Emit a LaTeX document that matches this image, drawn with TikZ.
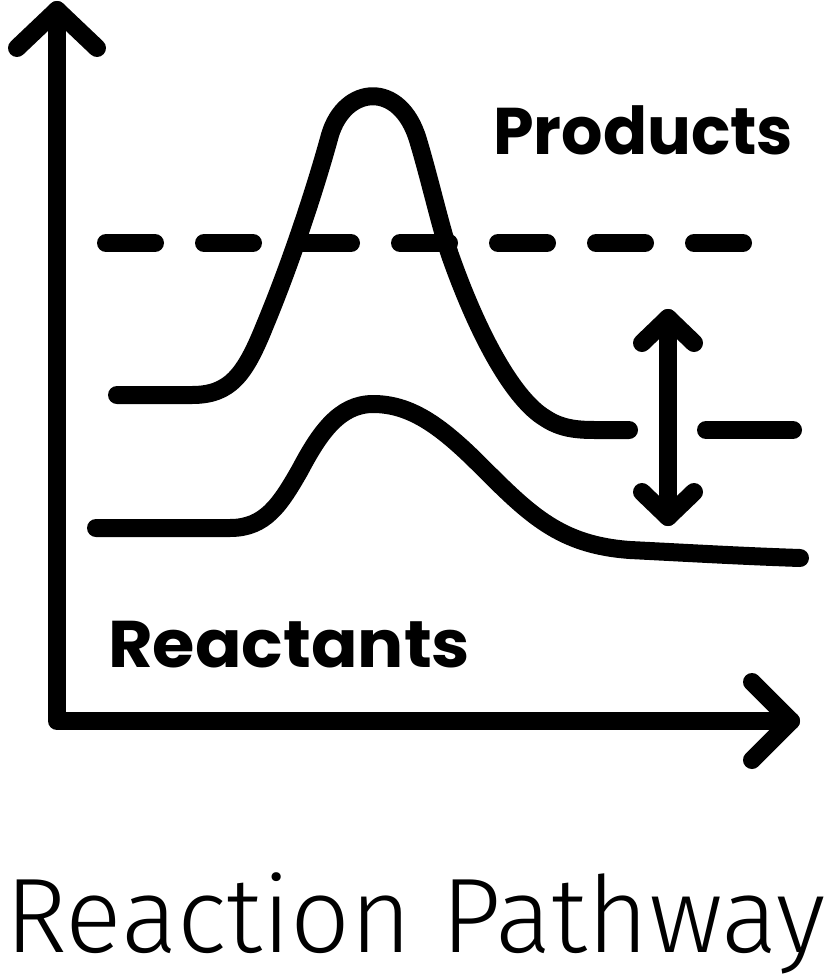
\documentclass[tikz,border=0pt]{standalone}
\usepackage{fontspec}
\setmainfont{Poppins}
\newfontfamily\capfont{Fira Sans Light}
\usepackage{graphicx}
\begin{document}
\begin{tikzpicture}[x=1pt,y=-1pt,
  stroke/.style={line width=18pt,line cap=round,line join=round,black},
  dashln/.style={stroke,dash pattern=on 49pt off 49pt},
  label/.style={inner sep=0pt,anchor=base west,font=\fontsize{66}{66}\selectfont\bfseries}]
\useasboundingbox[fill=white] (0,0) rectangle (831,980);
% axes
\draw[stroke] (17,48) -- (57,10) -- (97,48);
\draw[stroke] (57,10) -- (57,721) -- (791,721);
\draw[stroke] (752,682) -- (791,721) -- (752,760);
% dashed level
\draw[dashln] (106,243) -- (745,243);
% upper curve
\draw[stroke] (117,395) -- (192,395)
  .. controls (230,395) and (245,375) .. (265,325)
  .. controls (290,265) and (315,190) .. (330,135)
  .. controls (345,85) and (400,80) .. (418,140)
  .. controls (430,180) and (440,225) .. (450,255)
  .. controls (480,340) and (515,400) .. (545,418)
  .. controls (560,428) and (575,430) .. (595,430) -- (629,430);
\draw[stroke] (706,430) -- (793,430);
% lower curve
\draw[stroke] (96,528) -- (230,528)
  .. controls (265,528) and (280,505) .. (300,470)
  .. controls (320,432) and (340,404) .. (373,404)
  .. controls (410,404) and (440,425) .. (480,465)
  .. controls (530,515) and (560,545) .. (630,550)
  .. controls (690,553) and (740,556) .. (800,558);
% double arrow
\draw[stroke] (642,343) -- (668,318) -- (694,343);
\draw[stroke] (668,318) -- (668,517);
\draw[stroke] (642,492) -- (668,517) -- (694,492);
% labels
\node[label] (prod) at (493,154) {\resizebox{300pt}{\height}{Products}};
\node[label] (reac) at (108,667) {\resizebox{362pt}{\height}{Reactants}};
\node[inner sep=0pt,anchor=base west] (cap) at (5,952) {\resizebox{820pt}{\height}{\capfont\fontsize{106}{106}\selectfont Reaction Pathway}};
\end{tikzpicture}
\end{document}
